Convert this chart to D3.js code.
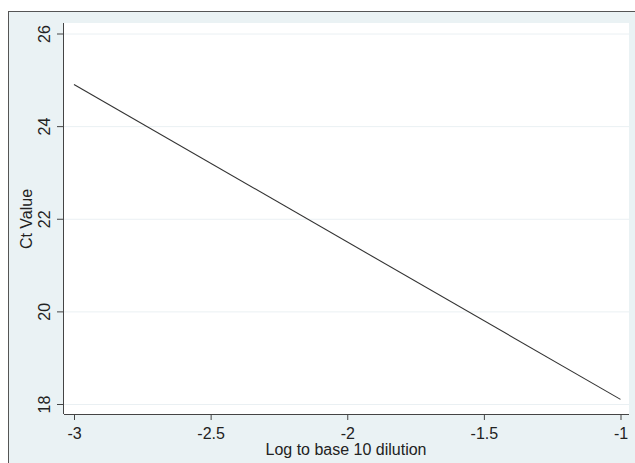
<!DOCTYPE html>
<html><head><meta charset="utf-8">
<script src="https://cdn.jsdelivr.net/npm/d3@7"></script>
<style>body{margin:0;background:#fff;}svg{display:block;font-family:"Liberation Sans",Arial,sans-serif;}</style>
</head><body>
<svg id="c" width="635" height="463"></svg>
<script>
const xTicks = [-3, -2.5, -2, -1.5, -1];
const xTickLabels = ["-3", "-2.5", "-2", "-1.5", "-1"];
const yTicks = [18, 20, 22, 24, 26];
const lineX = [-3, -1];
const lineY = [24.9, 18.1];
const xTitle = "Log to base 10 dilution";
const yTitle = "Ct Value";

const FONT = "Liberation Sans, Arial, sans-serif";
const svg = d3.select("#c");
// outer background & border
svg.append("rect").attr("x", 8.5).attr("y", 11.5).attr("width", 640).attr("height", 470)
  .attr("fill", "#eaf2f4").attr("stroke", "#555").attr("stroke-width", 1);

const x = d3.scaleLinear().domain([-3, -1]).range([74, 620.5]);
const y = d3.scaleLinear().domain([18, 26]).range([404, 33.5]);

// plot region
svg.append("rect").attr("x", 64).attr("y", 23).attr("width", 565).attr("height", 391).attr("fill", "#fff");

// gridlines
svg.append("g").selectAll("line").data(yTicks).join("line")
  .attr("x1", 64).attr("x2", 629).attr("y1", d => y(d) + 0.5).attr("y2", d => y(d) + 0.5)
  .attr("stroke", "#eaf0f3").attr("stroke-width", 1);

// axes
const xAxis = d3.axisBottom(x).tickValues(xTicks).tickFormat((d, i) => xTickLabels[i]).tickSize(6).tickSizeOuter(0).tickPadding(8);
const gx = svg.append("g").attr("transform", "translate(0,414)").call(xAxis);
gx.select(".domain").attr("d", "M64,0.5H629").attr("stroke", "#444");
gx.selectAll(".tick line").attr("stroke", "#444");
gx.selectAll(".tick text").attr("font-size", 16).attr("fill", "#222").attr("font-family", FONT);

const yAxis = d3.axisLeft(y).tickValues(yTicks).tickSize(7).tickSizeOuter(0);
const gy = svg.append("g").attr("transform", "translate(64,0)").call(yAxis);
gy.select(".domain").attr("d", "M-0.5,23V414").attr("stroke", "#444");
gy.selectAll(".tick line").attr("stroke", "#444");
gy.selectAll(".tick text").attr("font-size", 16).attr("fill", "#222")
  .attr("font-family", FONT)
  .attr("text-anchor", "middle").attr("dy", null)
  .attr("transform", "translate(-14.5,0) rotate(-90)").attr("x", 0).attr("y", 0);

// line
const data = lineX.map((v, i) => [v, lineY[i]]);
svg.append("path").datum(data)
  .attr("d", d3.line().x(d => x(d[0])).y(d => y(d[1])))
  .attr("fill", "none").attr("stroke", "#333").attr("stroke-width", 1.1);

// titles
svg.append("text").attr("x", 346).attr("y", 455).attr("text-anchor", "middle")
  .attr("font-size", 16).attr("fill", "#222").text(xTitle);
svg.append("text").attr("transform", "translate(32,219) rotate(-90)").attr("text-anchor", "middle")
  .attr("font-size", 16).attr("fill", "#222").text(yTitle);
</script>
</body></html>
